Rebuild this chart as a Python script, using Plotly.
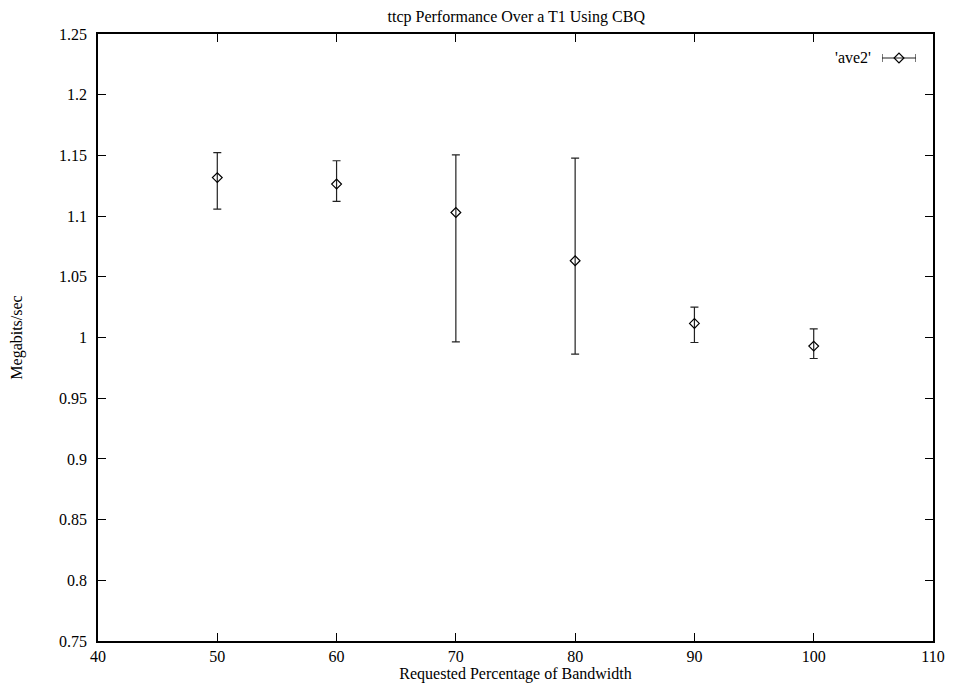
import plotly.graph_objects as go

bandwidth = [50, 60, 70, 80, 90, 100]
mean_mbps = [1.1317, 1.1264, 1.1030, 1.0632, 1.0116, 0.9929]
upper_mbps = [1.1523, 1.1456, 1.1505, 1.1478, 1.0250, 1.0071]
lower_mbps = [1.1058, 1.1121, 0.9964, 0.9863, 0.9959, 0.9827]

err_plus = [u - m for u, m in zip(upper_mbps, mean_mbps)]
err_minus = [m - l for m, l in zip(mean_mbps, lower_mbps)]

FONT = "Liberation Serif"
FS = 16

fig = go.Figure()
fig.add_trace(go.Scatter(
    x=bandwidth, y=mean_mbps, mode="markers", name="'ave2'",
    marker=dict(symbol="diamond-open", size=7.5, color="black", line=dict(width=1.2, color="black")),
    error_y=dict(type="data", symmetric=False, array=err_plus, arrayminus=err_minus,
                 color="#222", thickness=1.2, width=4),
    showlegend=False,
))

# legend sample on an overlay axis
fig.add_trace(go.Scatter(
    x=[0.5], y=[0.5], mode="markers", xaxis="x2", yaxis="y2", showlegend=False,
    marker=dict(symbol="diamond-open", size=7.5, color="black", line=dict(width=1.2, color="black")),
    error_x=dict(type="data", array=[0.5], arrayminus=[0.5], color="#222", thickness=1.2, width=4),
    hoverinfo="skip",
))

axis_common = dict(
    showgrid=False, zeroline=False, showline=True, linecolor="black", linewidth=1.5,
    mirror="allticks", ticks="inside", ticklen=8, tickwidth=1, tickcolor="black",
    tickfont=dict(family=FONT, size=FS, color="black"), automargin=False,
)

fig.update_layout(
    width=953, height=687,
    paper_bgcolor="white", plot_bgcolor="white",
    margin=dict(l=98, r=20, t=34, b=46),
    font=dict(family=FONT, size=FS, color="black"),
    title=dict(text="ttcp Performance Over a T1 Using CBQ", x=0.5417, xanchor="center",
               y=1 - 16 / 687, yanchor="middle", font=dict(family=FONT, size=FS, color="black")),
    xaxis=dict(range=[40, 110], tick0=40, dtick=10, **axis_common,
               title=dict(text="Requested Percentage of Bandwidth", standoff=0,
                          font=dict(family=FONT, size=FS, color="black"))),
    yaxis=dict(range=[0.75, 1.25], tick0=0.75, dtick=0.05, **axis_common,
               ticklabelstandoff=6,
               title=dict(text="Megabits/sec", standoff=32, font=dict(family=FONT, size=FS, color="black"))),
    xaxis2=dict(domain=[(882 - 98) / 835, (916 - 98) / 835], range=[0, 1], visible=False, anchor="y2"),
    yaxis2=dict(domain=[1 - (66 - 34) / 607, 1 - (50 - 34) / 607], range=[0, 1], visible=False, anchor="x2"),
    showlegend=False,
)

fig.add_annotation(text="'ave2'", xref="paper", yref="paper",
                   x=(873 - 98) / 835, y=1 - (58 - 34) / 607, xanchor="right", yanchor="middle",
                   showarrow=False, font=dict(family=FONT, size=FS, color="black"))

fig.write_html("out.html")
